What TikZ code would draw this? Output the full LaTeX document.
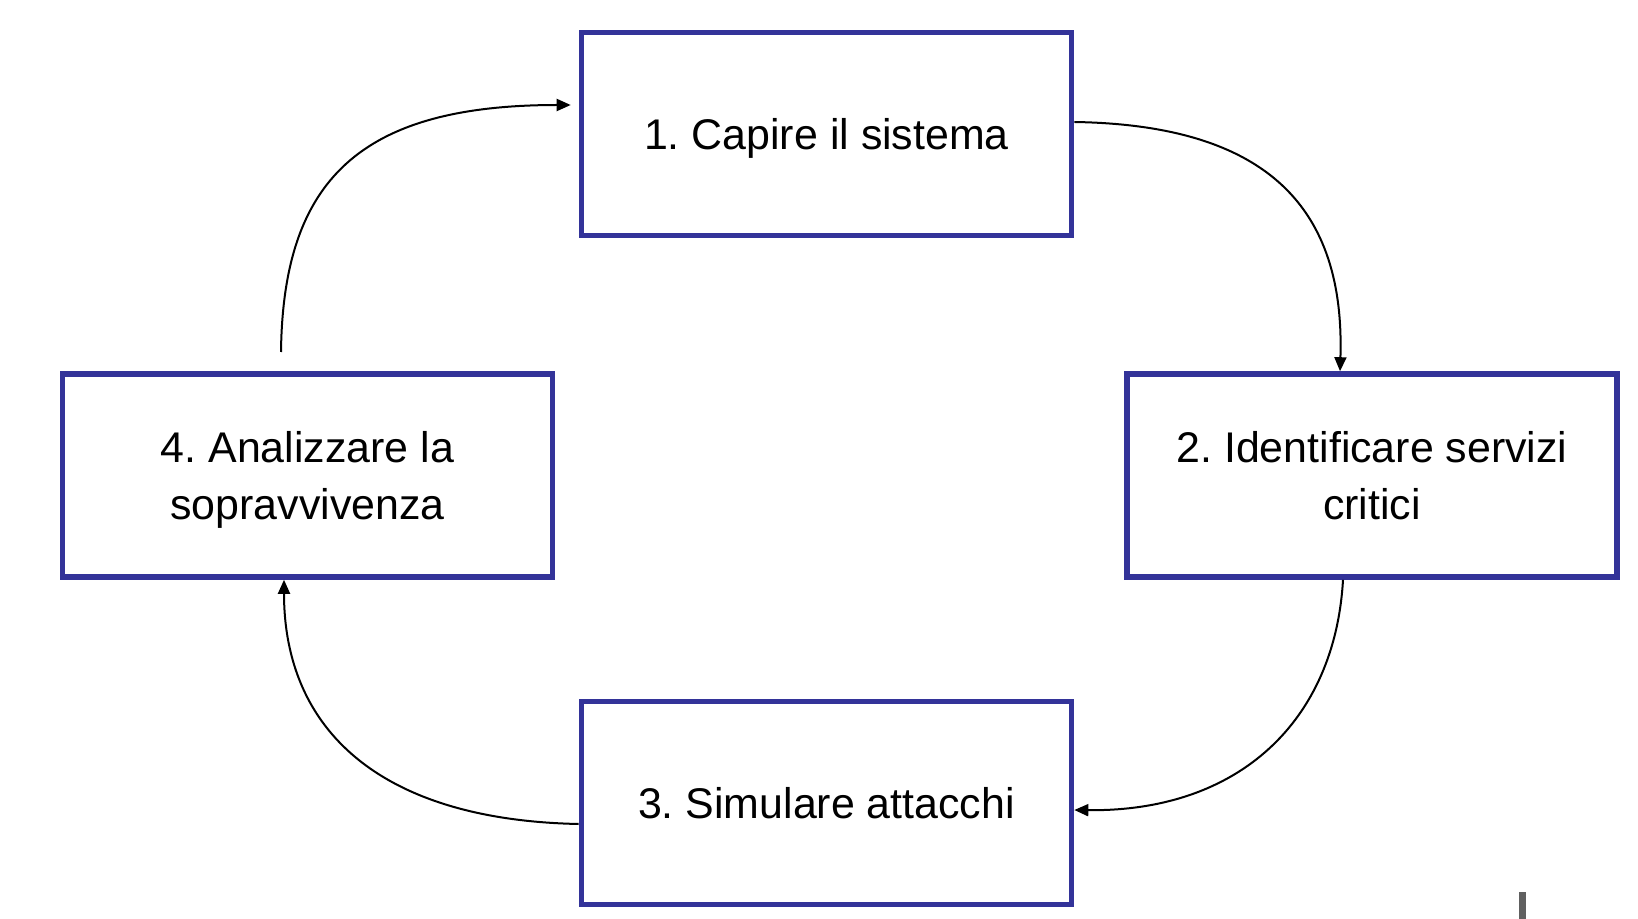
\documentclass[tikz,border=0pt]{standalone}
\usepackage{fontspec}
\setmainfont{Liberation Sans}
\usetikzlibrary{arrows.meta}
\definecolor{boxblue}{RGB}{51,51,153}
\definecolor{markgray}{RGB}{96,96,96}
\frenchspacing
\begin{document}
\begin{tikzpicture}[x=0.5pt,y=-0.5pt,
  stepbox/.style={draw=boxblue,line width=2.8pt,fill=white,rectangle,inner sep=0pt,
    minimum width=245pt,minimum height=101.5pt,align=center,text depth=0pt,
    font=\fontsize{21.45}{28.2}\selectfont},
  conn/.style={line width=1pt,-{Triangle[length=7pt,width=6pt]}}]
\fill[white] (0,0) rectangle (1638,919);
\useasboundingbox (0,0) rectangle (1638,919);
\node[stepbox] (b1) at (826.5,134) {1. Capire il sistema};
\node[stepbox] (b2) at (1372,475.5) {2. Identificare servizi\\critici};
\node[stepbox] (b3) at (826.5,803) {3. Simulare attacchi};
\node[stepbox] (b4) at (307.5,475.5) {4. Analizzare la\\sopravvivenza};
\coordinate (c4s) at (281,352);
\draw[conn] ([yshift=6pt]b1.east) .. controls (1270,125) and (1345,210) .. ([xshift=-16pt]b2.north);
\draw[conn] ([xshift=-14.5pt]b2.south) .. controls (1335,720) and (1240,812) .. ([yshift=-3.5pt]b3.east);
\draw[conn] ([yshift=-10.5pt]b3.west) .. controls (380,820) and (284,730) .. ([xshift=-11.75pt]b4.south);
\draw[conn] (c4s) .. controls (283,180) and (360,105) .. ([xshift=-4pt,yshift=14.5pt]b1.west);
\fill[markgray] (1519,892) rectangle (1526,919);
\end{tikzpicture}
\end{document}
